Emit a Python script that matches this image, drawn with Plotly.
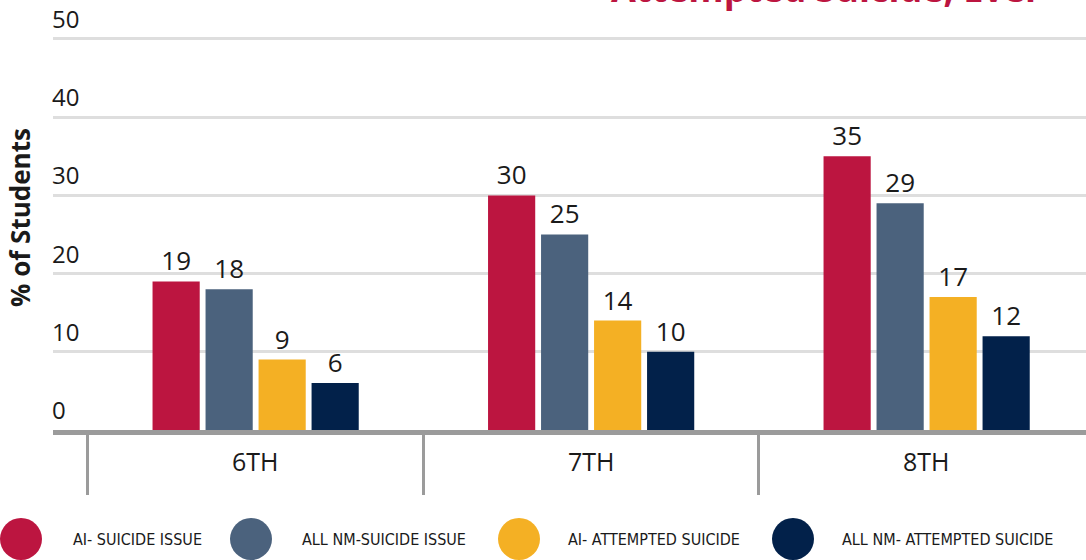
import plotly.graph_objects as go

# ---- data ----
grades = ["6TH", "7TH", "8TH"]
series_names = ["AI- SUICIDE ISSUE", "ALL NM-SUICIDE ISSUE", "AI- ATTEMPTED SUICIDE", "ALL NM- ATTEMPTED SUICIDE"]
ai_suicide_issue = [19, 30, 35]
all_nm_suicide_issue = [18, 25, 29]
ai_attempted = [9, 14, 17]
all_nm_attempted = [6, 10, 12]
y_ticks = [0, 10, 20, 30, 40, 50]
title_text = "Attempted Suicide, Ever"
y_title = "% of Students"

# ---- styles ----
colors = ["#BC1540", "#4B627D", "#F4B024", "#02214A"]
W, H = 1086, 560
plot_left, y50_px, plot_bottom = 53, 39, 430
y_max = 50.6
plot_top = plot_bottom - (plot_bottom - y50_px) / 50 * y_max
legend_cx = [21, 251, 519, 793]
legend_tx = [71, 300, 566, 840]
legend_cy = 539
legend_r = 21
main_font = "Open Sans"
narrow_font = "Liberation Sans Narrow, DejaVu Sans Condensed, Open Sans"

values = [ai_suicide_issue, all_nm_suicide_issue, ai_attempted, all_nm_attempted]

fig = go.Figure()
for name, vals, col in zip(series_names, values, colors):
    fig.add_trace(go.Bar(
        x=grades, y=vals, name=name, marker=dict(color=col, line=dict(width=0)),
        text=vals, texttemplate="%{text}", textposition="outside",
        textfont=dict(family=main_font, size=26, color="#1a1a1a"),
        cliponaxis=False, showlegend=False,
    ))

def px_x(p):
    return p / W

def px_y(p):
    return 1 - p / H

annotations = []
# y tick labels (sit above the gridlines)
for t in y_ticks:
    annotations.append(dict(x=px_x(plot_left - 3), xref="paper", y=t, yref="y", text=str(t), showarrow=False,
                            font=dict(family=main_font, size=24, color="#1a1a1a"),
                            xanchor="left", yanchor="bottom", yshift=2))
# category labels
for g in grades:
    annotations.append(dict(x=g, xref="x", y=px_y(461), yref="paper", text=g, showarrow=False,
                            font=dict(family=main_font, size=25, color="#1a1a1a"),
                            xanchor="center", yanchor="middle"))
# y title
annotations.append(dict(x=px_x(20), y=px_y(218), xref="paper", yref="paper", text="<b>" + y_title + "</b>",
                        textangle=-90, showarrow=False, font=dict(family=main_font, size=26, color="#1a1a1a"),
                        xanchor="center", yanchor="middle"))
# title (cut at top)
annotations.append(dict(x=px_x(826), y=px_y(15), xref="paper", yref="paper", text="<b>" + title_text + "</b>",
                        showarrow=False, font=dict(family=main_font, size=36, color="#BC1540"),
                        xanchor="center", yanchor="bottom"))
# legend
shapes = []
for name, col, cx, tx in zip(series_names, colors, legend_cx, legend_tx):
    shapes.append(dict(type="circle", xref="paper", yref="paper",
                       x0=px_x(cx - legend_r), x1=px_x(cx + legend_r),
                       y0=px_y(legend_cy + legend_r), y1=px_y(legend_cy - legend_r),
                       fillcolor=col, line=dict(width=0)))
    annotations.append(dict(x=px_x(tx), y=px_y(legend_cy), xref="paper", yref="paper", text=name,
                            showarrow=False, font=dict(family=narrow_font, size=16, color="#1a1a1a"),
                            xanchor="left", yanchor="middle"))

fig.update_layout(
    width=W, height=H,
    margin=dict(l=0, r=0, t=0, b=0),
    paper_bgcolor="white", plot_bgcolor="white",
    barmode="group", bargap=0.368, bargroupgap=0.11,
    annotations=annotations, shapes=shapes,
    xaxis=dict(domain=[px_x(plot_left), 1], type="category", range=[-0.604, 2.475],
               showline=True, linecolor="#9B9B9B", linewidth=5,
               ticks="outside", tickson="boundaries", ticklen=60, tickwidth=3, tickcolor="#9B9B9B",
               showticklabels=False, showgrid=False, zeroline=False, fixedrange=True),
    yaxis=dict(domain=[px_y(plot_bottom), px_y(plot_top)], range=[0, y_max], tickvals=y_ticks,
               showgrid=True, gridcolor="#DEDEDE", gridwidth=3, zeroline=False, showline=False,
               ticks="", showticklabels=False, fixedrange=True),
    showlegend=False,
)

fig.write_html("out.html", config={"displayModeBar": False},
               post_script="document.body.style.margin='0';document.body.style.overflow='hidden';")
